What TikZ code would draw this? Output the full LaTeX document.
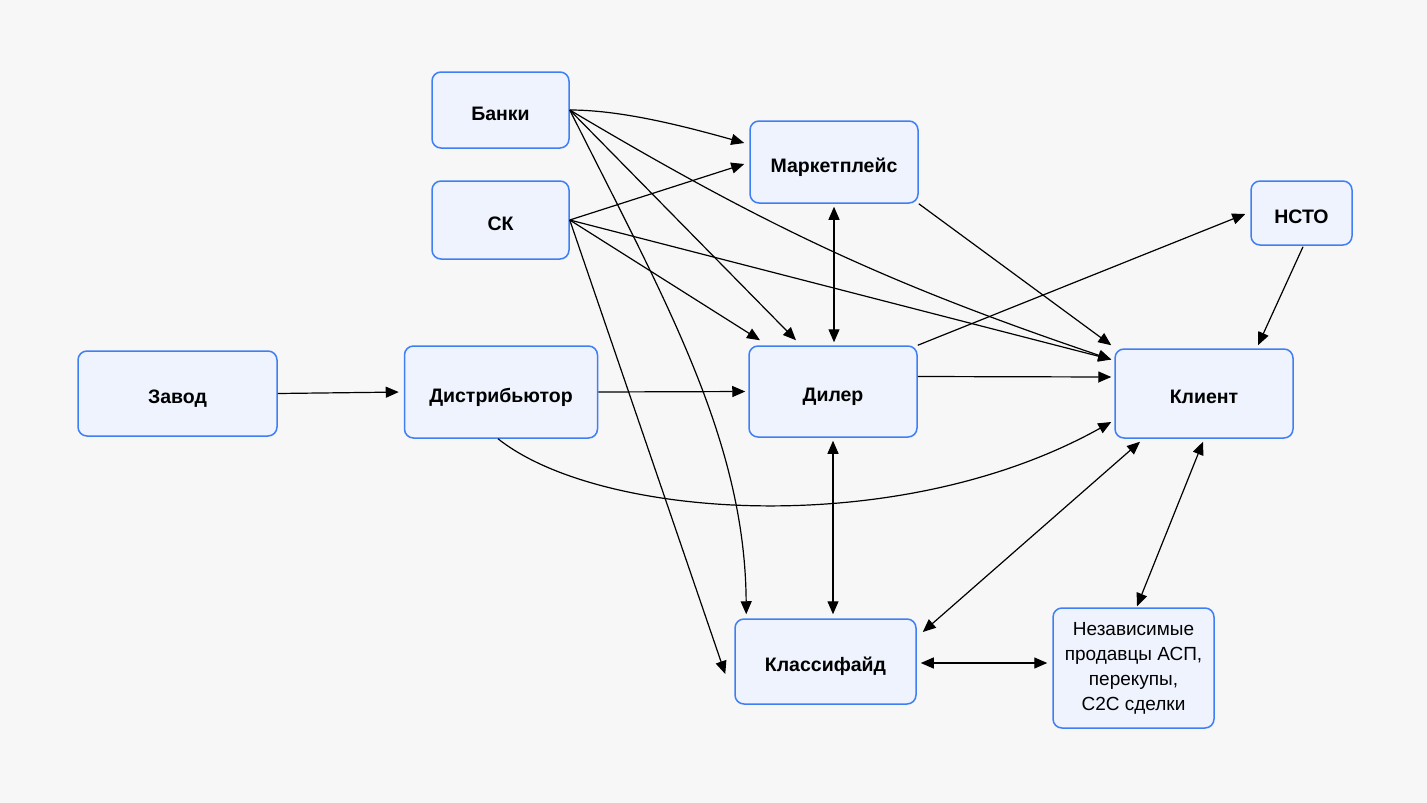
\documentclass[tikz,border=0pt]{standalone}
\usepackage{fontspec}
\setmainfont{Liberation Sans}
\usetikzlibrary{arrows.meta,calc}
\definecolor{bgcol}{HTML}{F7F7F7}
\definecolor{nodefill}{HTML}{EEF3FD}
\definecolor{nodeborder}{HTML}{3F7FF5}
\begin{document}
\begin{tikzpicture}[x=1pt,y=-1pt,
  box/.style={draw=nodeborder, fill=nodefill, rounded corners=9pt, line width=1.5pt,
    align=center, inner sep=0pt, font=\bfseries\fontsize{19.5}{22}\selectfont},
  onebox/.style={box, text height=20pt, text depth=0pt},
  plainbox/.style={box, font=\fontsize{19}{25}\selectfont},
  arr/.style={-{Triangle[length=13pt,width=11pt]}, line width=1.2pt},
  darr/.style={{Triangle[length=13pt,width=11pt]}-{Triangle[length=13pt,width=11pt]}, line width=1.2pt}]
\fill[bgcol] (0,0) rectangle (1427,803);
\useasboundingbox (0,0) rectangle (1427,803);

\node[onebox, minimum width=137pt, minimum height=76pt] (banki) at (500.5,110) {Банки};
\node[onebox, minimum width=137pt, minimum height=78pt] (sk) at (500.5,220) {СК};
\node[onebox, minimum width=168pt, minimum height=82pt] (market) at (834,162) {Маркетплейс};
\node[onebox, minimum width=101pt, minimum height=64pt] (nsto) at (1301.5,213) {НСТО};
\node[onebox, minimum width=199pt, minimum height=85pt] (zavod) at (177.5,393.5) {Завод};
\node[onebox, minimum width=193pt, minimum height=92pt] (distr) at (501,392) {Дистрибьютор};
\node[onebox, minimum width=168pt, minimum height=91pt] (diler) at (833,391.5) {Дилер};
\node[onebox, minimum width=178pt, minimum height=89pt] (klient) at (1204,393.5) {Клиент};
\node[onebox, minimum width=181pt, minimum height=85pt] (klass) at (825.5,661.5) {Классифайд};
\node[plainbox, minimum width=161pt, minimum height=120pt] (nez) at (1133.5,668) {Независимые\\продавцы АСП,\\перекупы,\\C2C сделки};

% from Banki
\draw[arr] (banki.east) .. controls (620,110) and (680,125) .. ($(market.west)+(-5,-19)$);
\draw[arr] (banki.east) to[bend right=6] ($(klient.west)+(-3,-34)$);
\draw[arr] (banki.east) -- ($(diler.north)+(-37,-5)$);
\draw[arr] (banki.east) .. controls (665,300) and (745,440) .. ($(klass.north west)+(12,-4)$);
% from SK
\draw[arr] (sk.east) -- ($(market.west)+(-5,2)$);
\draw[arr] (sk.east) -- ($(klient.west)+(-3,-34)$);
\draw[arr] (sk.east) -- ($(diler.north)+(-73,-5)$);
\draw[arr] (sk.east) -- ($(klass.west)+(-9,12.5)$);
% market
\draw[darr, shorten <=3pt, shorten >=3pt] (market.south) -- (market.south |- diler.north);
\draw[arr] (market.south east) -- ($(klient.north west)+(-3,-3)$);
% diler
\draw[arr] (diler.north east) -- ($(nsto.west)+(-5,1)$);
\draw[arr] ($(diler.east)+(0,-15)$) -- ($(klient.west)+(-3,-16.5)$);
\draw[darr, shorten <=3pt, shorten >=4pt] (diler.south) -- (diler.south |- klass.north);
% chain
\draw[arr, shorten >=5pt] (zavod.east) -- (distr.west);
\draw[arr, shorten >=3pt] (distr.east) -- (diler.west);
\draw[arr] ($(distr.south)+(-3,0)$) .. controls (600,520) and (900,540) .. ($(klient.west)+(-3,28.5)$);
% nsto
\draw[arr] ($(nsto.south)+(1.5,1)$) -- ($(klient.north)+(54,-3)$);
% klient bottom
\draw[darr] ($(klient.south)+(-64,3)$) -- ($(klass.east)+(6,-29.5)$);
\draw[darr] ($(klient.south)+(-1,3)$) -- ($(nez.north)+(3.5,-1)$);
% klass - nez
\draw[darr] ($(klass.east)+(4,1.5)$) -- ($(nez.west)+(-5,-5)$);
\end{tikzpicture}
\end{document}
